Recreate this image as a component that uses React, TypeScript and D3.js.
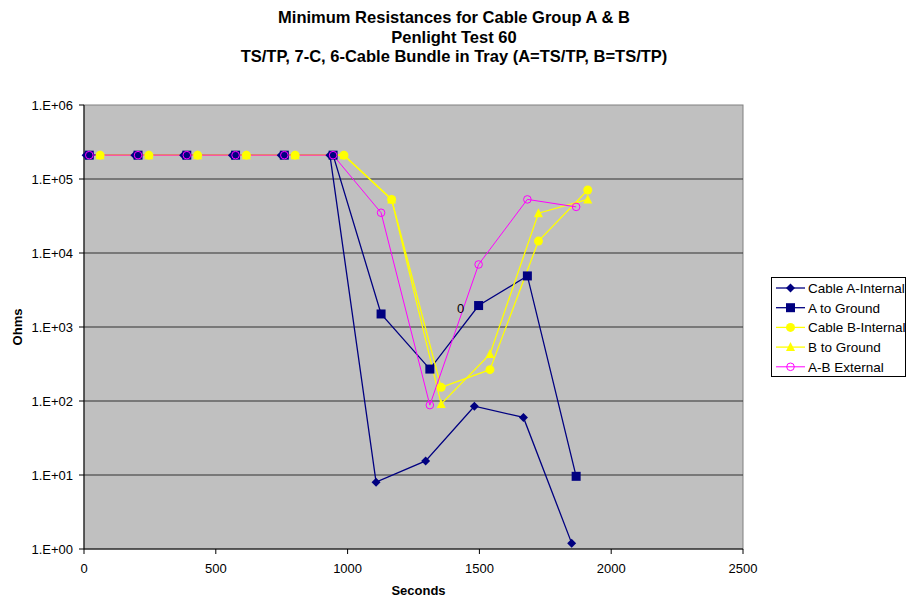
import { useMemo } from "react"
import * as d3 from 'd3'

// seconds for each series
const timesA = [8, 193, 378, 563, 748, 933, 1108, 1296, 1481, 1667, 1850]
const timesAB = [20, 205, 390, 575, 760, 945, 1127, 1312, 1497, 1682, 1867]
const timesB = [61, 246, 431, 616, 801, 986, 1167, 1355, 1540, 1724, 1911]

const cableAInternal = [2.1e5, 2.1e5, 2.1e5, 2.1e5, 2.1e5, 2.1e5, 8, 15.5, 85, 60, 1.2]
const aToGround = [2.1e5, 2.1e5, 2.1e5, 2.1e5, 2.1e5, 2.1e5, 1500, 270, 1950, 4900, 9.6]
const cableBInternal = [2.1e5, 2.1e5, 2.1e5, 2.1e5, 2.1e5, 2.1e5, 53000, 153, 265, 14500, 71000]
const bToGround = [2.1e5, 2.1e5, 2.1e5, 2.1e5, 2.1e5, 2.1e5, 53000, 91, 430, 34500, 53000]
const abExternal = [2.1e5, 2.1e5, 2.1e5, 2.1e5, 2.1e5, 2.1e5, 35000, 88, 7000, 53000, 42000]

const xTicks = [0, 500, 1000, 1500, 2000, 2500]
const yTicks = [1, 10, 100, 1000, 10000, 100000, 1000000]
const yTickLabels = ["1.E+00", "1.E+01", "1.E+02", "1.E+03", "1.E+04", "1.E+05", "1.E+06"]
const titleLines = [
  "Minimum Resistances for Cable Group A & B",
  "Penlight Test 60",
  "TS/TP, 7-C, 6-Cable Bundle in Tray (A=TS/TP, B=TS/TP)",
]

type Marker = "diamond" | "square" | "circle" | "triangle" | "open"

const series: { name: string, times: number[], values: number[], color: string, marker: Marker, width: number }[] = [
  { name: "Cable A-Internal", times: timesA, values: cableAInternal, color: "#000080", marker: "diamond", width: 1.3 },
  { name: "A to Ground", times: timesAB, values: aToGround, color: "#000080", marker: "square", width: 1.3 },
  { name: "Cable B-Internal", times: timesB, values: cableBInternal, color: "#ffff00", marker: "circle", width: 1.3 },
  { name: "B to Ground", times: timesB, values: bToGround, color: "#ffff00", marker: "triangle", width: 1.3 },
  { name: "A-B External", times: timesAB, values: abExternal, color: "#ff00ff", marker: "open", width: 1 },
]

const font = "Liberation Sans, Arial, sans-serif"

const MarkerShape = ({ type, x, y, color }: { type: Marker, x: number, y: number, color: string }) => {
  if (type === "diamond") return <path d={`M ${x - 4.5} ${y} L ${x} ${y - 4.5} L ${x + 4.5} ${y} L ${x} ${y + 4.5} Z`} fill={color} />
  if (type === "square") return <rect x={x - 4.5} y={y - 4.5} width={9} height={9} fill={color} />
  if (type === "circle") return <circle cx={x} cy={y} r={4.5} fill={color} />
  if (type === "triangle") return <path d={`M ${x - 4.5} ${y + 4} L ${x} ${y - 5} L ${x + 4.5} ${y + 4} Z`} fill={color} />
  return <circle cx={x} cy={y} r={3.8} fill="none" stroke={color} strokeWidth={1} />
}

const App = () => {
  const left = 84, right = 743, top = 105, bottom = 549
  const x = useMemo(() => d3.scaleLinear().domain([0, 2500]).range([left, right]), [])
  const y = useMemo(() => d3.scaleLog().domain([1, 1e6]).range([bottom, top]), [])

  const line = (s: typeof series[number]) =>
    d3.line<number>().x((_, i) => x(s.times[i])).y(v => y(v))(s.values) || ""

  const cx = (left + right) / 2

  return (
    <svg width={907} height={601} style={{ position: "absolute", left: 0, top: 0, fontFamily: font }}>
      <rect width={907} height={601} fill="#ffffff" />
      {titleLines.map((t, i) => (
        <text key={t} x={454} y={23 + i * 19.6} textAnchor="middle" fontSize={16.5} fontWeight="bold">{t}</text>
      ))}
      <rect x={left} y={top} width={right - left} height={bottom - top} fill="#c0c0c0" stroke="#808080" strokeWidth={1} />
      {yTicks.map((t, i) => (
        <g key={t}>
          {i > 0 && i < yTicks.length - 1 && <line x1={left} x2={right} y1={y(t)} y2={y(t)} stroke="#303030" strokeWidth={1} />}
          <line x1={left - 5} x2={left} y1={y(t)} y2={y(t)} stroke="#000" />
          <text x={73} y={y(t) + 5} textAnchor="end" fontSize={13}>{yTickLabels[i]}</text>
        </g>
      ))}
      <line x1={left} x2={left} y1={top} y2={bottom} stroke="#000" />
      <line x1={left} x2={right} y1={bottom} y2={bottom} stroke="#000" />
      {xTicks.map(t => (
        <g key={t}>
          <line x1={x(t)} x2={x(t)} y1={bottom} y2={bottom + 5} stroke="#000" />
          <text x={x(t)} y={bottom + 24} textAnchor="middle" fontSize={13}>{t}</text>
        </g>
      ))}
      <text x={cx + 5} y={595} textAnchor="middle" fontSize={13} fontWeight="bold">Seconds</text>
      <text transform={`translate(22, ${(top + bottom) / 2}) rotate(-90)`} textAnchor="middle" fontSize={13} fontWeight="bold">Ohms</text>

      {series.map(s => (
        <path key={s.name} d={line(s)} fill="none" stroke={s.color} strokeWidth={s.width} />
      ))}
      {series.map(s => (
        <g key={s.name + "m"}>
          {s.values.map((v, i) => (
            <MarkerShape key={i} type={s.marker} x={x(s.times[i])} y={y(v)} color={s.color} />
          ))}
        </g>
      ))}
      <text x={x(timesAB[8]) - 18} y={y(aToGround[8]) + 7} textAnchor="middle" fontSize={13}>0</text>

      <rect x={771.5} y={277.5} width={134} height={99} fill="#ffffff" stroke="#000" strokeWidth={1} />
      {series.map((s, i) => {
        const ly = 288 + i * 19.7
        return (
          <g key={s.name + "l"}>
            <line x1={776} x2={805} y1={ly} y2={ly} stroke={s.color} strokeWidth={s.width} />
            <MarkerShape type={s.marker} x={790.5} y={ly} color={s.color} />
            <text x={808} y={ly + 5} fontSize={13.5}>{s.name}</text>
          </g>
        )
      })}
    </svg>
  )
}

export default App
